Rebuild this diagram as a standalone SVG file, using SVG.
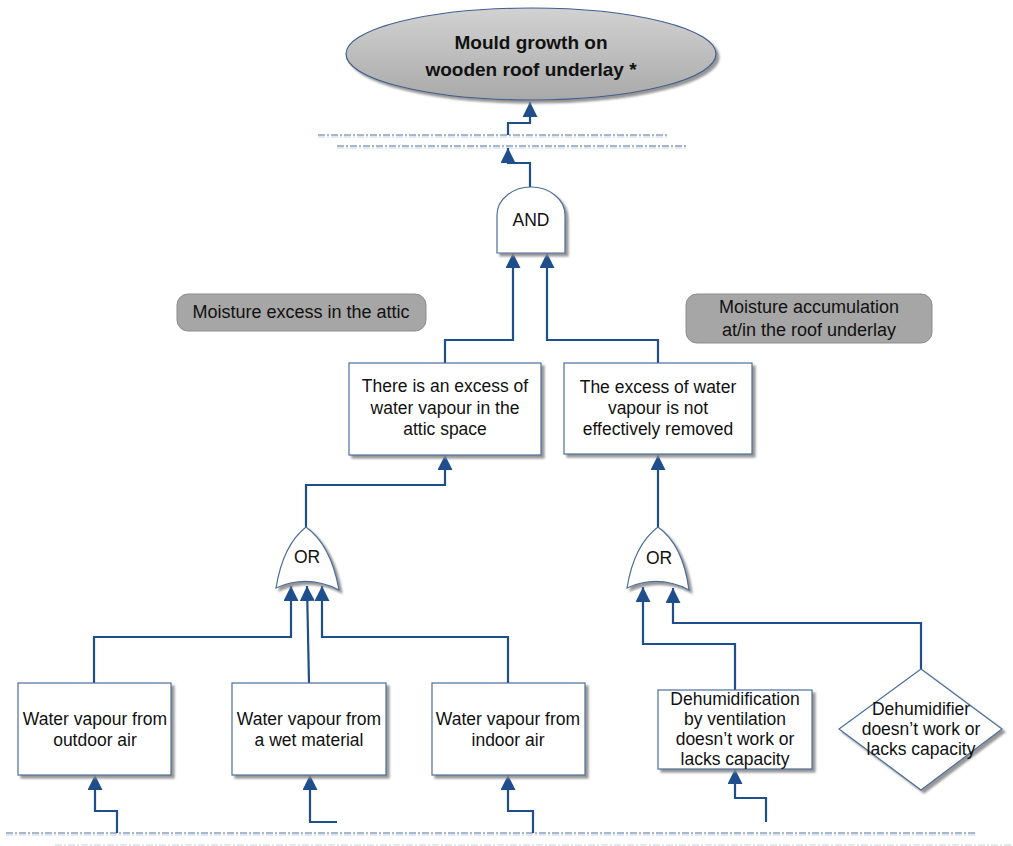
<svg xmlns="http://www.w3.org/2000/svg" width="1013" height="846" viewBox="0 0 1013 846">
<style>
text{font-family:"Liberation Sans",Arial,sans-serif;fill:#111;text-anchor:middle}
.t{font-size:17.5px}
.lbl{font-size:18px}
.top{font-size:19px;font-weight:bold}
.box{fill:#fff;stroke:#4a6e9c;stroke-width:1.2;filter:url(#sh)}
.gate{fill:#fff;stroke:#4a6e9c;stroke-width:1.2;filter:url(#sh)}
.note{fill:#a6a6a6;stroke:#8c8c8c;stroke-width:1}
.c{fill:none;stroke:#1f4e8c;stroke-width:2.2;marker-end:url(#ah)}
.d1{stroke:#4d6f9f;stroke-width:1;stroke-dasharray:7 2 2 2}
.d2{stroke:#c7d2e0;stroke-width:1;stroke-dasharray:7 2 2 2}
</style>
<defs>
<filter id="sh" x="-10%" y="-10%" width="130%" height="130%">
<feDropShadow dx="3" dy="3" stdDeviation="0.8" flood-color="#8a8a8a" flood-opacity="0.9"/>
</filter>
<linearGradient id="eg" x1="0" y1="0" x2="0" y2="1">
<stop offset="0" stop-color="#d2d2d2"/>
<stop offset="1" stop-color="#a9a9a9"/>
</linearGradient>
<marker id="ah" viewBox="0 0 10 10" refX="10" refY="5" markerUnits="userSpaceOnUse" markerWidth="15" markerHeight="15" orient="auto">
<path d="M0,0 L10,5 L0,10 z" fill="#1f4e8c"/>
</marker>
</defs>
<rect width="1013" height="846" fill="#fff"/>

<g id="dashes">
<line class="d1" x1="318" y1="135" x2="668" y2="135"/>
<line class="d2" x1="318" y1="137" x2="668" y2="137"/>
<line class="d1" x1="337" y1="146" x2="688" y2="146"/>
<line class="d2" x1="337" y1="148" x2="688" y2="148"/>
<line class="d1" x1="6" y1="833" x2="975" y2="833"/>
<line class="d2" x1="6" y1="835" x2="975" y2="835"/>
<line class="d2" x1="55" y1="845" x2="1013" y2="845"/>
</g>

<g id="connectors">
<polyline class="c" points="508,135 508,123 530,123 530,102"/>
<polyline class="c" points="530,187 530,163 508,163 508,148"/>
<polyline class="c" points="445,363 445,340 513,340 513,253"/>
<polyline class="c" points="658,363 658,340 547,340 547,253"/>
<polyline class="c" points="306,527 306,485 445,485 445,455"/>
<polyline class="c" points="658,527 658,455"/>
<polyline class="c" points="94,683 94,637 291,637 291,586"/>
<polyline class="c" points="309,683 307,586"/>
<polyline class="c" points="508,683 508,637 322,637 322,586"/>
<polyline class="c" points="735,690 735,644 643,644 643,587"/>
<polyline class="c" points="921,669 921,623 673,623 673,588"/>
<polyline class="c" points="117,833 117,811 95,811 95,775"/>
<polyline class="c" points="337,822 310,822 310,775"/>
<polyline class="c" points="533,833 533,811 508,811 508,775"/>
<polyline class="c" points="766,822 766,798 735,798 735,769"/>
</g>

<g id="top-event">
<ellipse cx="531" cy="54" rx="185" ry="46" fill="url(#eg)" stroke="#3f5f8f" stroke-width="1.2" filter="url(#sh)"/>
<text class="top" x="531" y="49">Mould growth on</text>
<text class="top" x="531" y="76">wooden roof underlay *</text>
</g>

<g id="and-gate">
<path class="gate" d="M497,253 L497,215 A34,28 0 0 1 565,215 L565,253 Z"/>
<text class="t" x="531" y="226">AND</text>
</g>

<g id="note-left">
<rect class="note" x="177" y="294" width="249" height="37" rx="11"/>
<text class="lbl" x="301" y="318">Moisture excess in the attic</text>
</g>

<g id="note-right">
<rect class="note" x="686" y="294" width="246" height="49" rx="11"/>
<text class="lbl" x="809" y="313">Moisture accumulation</text>
<text class="lbl" x="809" y="336">at/in the roof underlay</text>
</g>

<g id="excess">
<rect class="box" x="349" y="363" width="192" height="92"/>
<text class="t" x="445" y="392">There is an excess of</text>
<text class="t" x="445" y="414">water vapour in the</text>
<text class="t" x="445" y="435">attic space</text>
</g>

<g id="not-removed">
<rect class="box" x="564" y="363" width="188" height="91"/>
<text class="t" x="658" y="393">The excess of water</text>
<text class="t" x="658" y="414">vapour is not</text>
<text class="t" x="658" y="435">effectively removed</text>
</g>

<g id="or-left">
<path class="gate" d="M306,527 Q331,545 339,590 Q307,574 276,588 Q283,545 306,527 Z"/>
<text class="t" x="307" y="563">OR</text>
</g>

<g id="or-right">
<path class="gate" d="M658,527 Q683,545 689,590 Q658,574 627,588 Q634,545 658,527 Z"/>
<text class="t" x="659" y="564">OR</text>
</g>

<g id="outdoor">
<rect class="box" x="18" y="683" width="153" height="92"/>
<text class="t" x="95" y="725">Water vapour from</text>
<text class="t" x="95" y="746">outdoor air</text>
</g>

<g id="wet-material">
<rect class="box" x="232" y="683" width="154" height="92"/>
<text class="t" x="309" y="725">Water vapour from</text>
<text class="t" x="309" y="746">a wet material</text>
</g>

<g id="indoor">
<rect class="box" x="432" y="683" width="153" height="92"/>
<text class="t" x="508" y="725">Water vapour from</text>
<text class="t" x="508" y="746">indoor air</text>
</g>

<g id="ventilation">
<rect class="box" x="658" y="690" width="154" height="79"/>
<text class="t" x="735" y="705">Dehumidification</text>
<text class="t" x="735" y="725">by ventilation</text>
<text class="t" x="735" y="745">doesn’t work or</text>
<text class="t" x="735" y="765">lacks capacity</text>
</g>

<g id="dehumidifier">
<path class="gate" d="M921,669 L1002,729 L921,790 L839,729 Z"/>
<text class="t" x="921" y="715">Dehumidifier</text>
<text class="t" x="921" y="735">doesn’t work or</text>
<text class="t" x="921" y="755">lacks capacity</text>
</g>
</svg>
